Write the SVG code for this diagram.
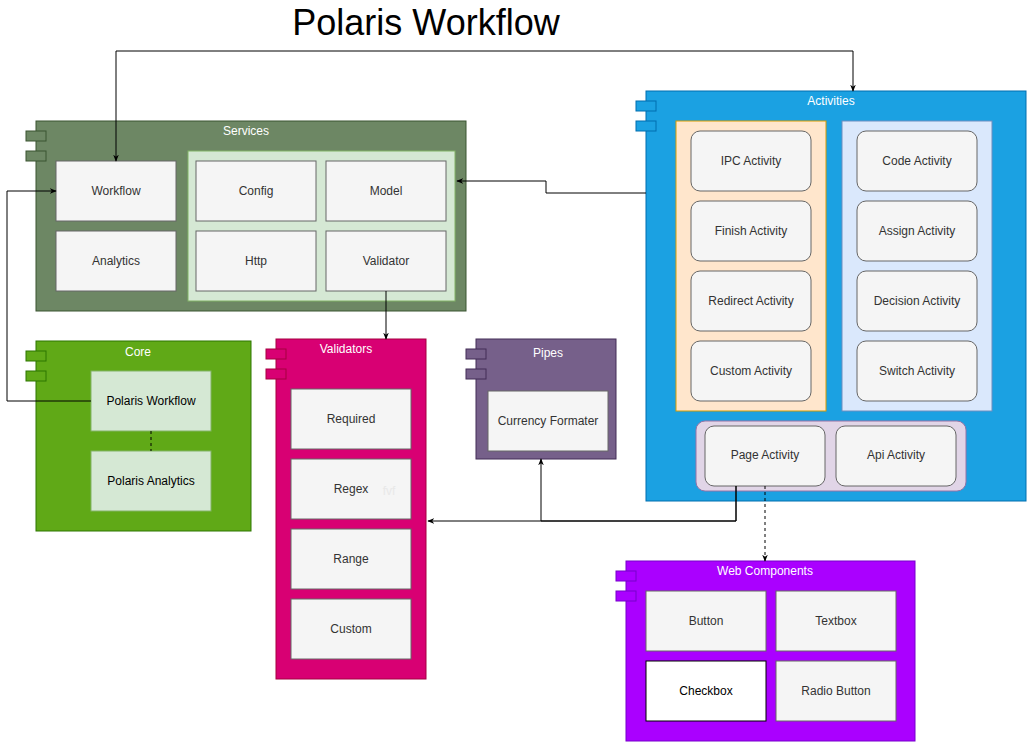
<svg xmlns="http://www.w3.org/2000/svg" width="1027" height="742" viewBox="0 0 1027 742">
<style>
text{font-family:"Liberation Sans",Arial,sans-serif;font-size:12px;text-anchor:middle;dominant-baseline:central}
.title{font-size:36px;fill:#000;dominant-baseline:auto}
.lbl{fill:#ffffff}
.box{fill:#f5f5f5;stroke:#666666;stroke-width:1}
.t{fill:#333333}
.edge{fill:none;stroke:#000;stroke-width:1}
</style>
<defs>
<marker id="arr" viewBox="0 0 10 10" refX="9" refY="5" markerWidth="7" markerHeight="7" orient="auto-start-reverse" markerUnits="userSpaceOnUse">
<path d="M0,1 L10,5 L0,9 L3,5 Z" fill="#000"/>
</marker>
</defs>
<rect width="1027" height="742" fill="#ffffff"/>
<text class="title" x="426" y="35">Polaris Workflow</text>

<g id="services">
<rect x="36" y="121" width="430" height="190" fill="#6d8764" stroke="#3a5431"/>
<rect x="26" y="131" width="20" height="10" fill="#6d8764" stroke="#3a5431"/>
<rect x="26" y="151" width="20" height="10" fill="#6d8764" stroke="#3a5431"/>
<text class="lbl" x="246" y="131">Services</text>
<rect x="188" y="151" width="267" height="150" fill="#d5e8d4" stroke="#82b366"/>
</g>
<g id="workflow"><rect class="box" x="56" y="161" width="120" height="60"/><text class="t" x="116" y="191">Workflow</text></g>
<g id="analytics"><rect class="box" x="56" y="231" width="120" height="60"/><text class="t" x="116" y="261">Analytics</text></g>
<g id="config"><rect class="box" x="196" y="161" width="120" height="60"/><text class="t" x="256" y="191">Config</text></g>
<g id="model"><rect class="box" x="326" y="161" width="120" height="60"/><text class="t" x="386" y="191">Model</text></g>
<g id="http"><rect class="box" x="196" y="231" width="120" height="60"/><text class="t" x="256" y="261">Http</text></g>
<g id="validator"><rect class="box" x="326" y="231" width="120" height="60"/><text class="t" x="386" y="261">Validator</text></g>

<g id="core">
<rect x="36" y="341" width="215" height="190" fill="#60a917" stroke="#2d7600"/>
<rect x="26" y="351" width="20" height="10" fill="#60a917" stroke="#2d7600"/>
<rect x="26" y="371" width="20" height="10" fill="#60a917" stroke="#2d7600"/>
<text class="lbl" x="138" y="352">Core</text>
</g>
<g id="polaris-workflow"><rect x="91" y="371" width="120" height="60" fill="#d5e8d4" stroke="#82b366"/><text x="151" y="401" fill="#000">Polaris Workflow</text></g>
<g id="polaris-analytics"><rect x="91" y="451" width="120" height="60" fill="#d5e8d4" stroke="#82b366"/><text x="151" y="481" fill="#000">Polaris Analytics</text></g>

<g id="validators">
<rect x="276" y="339" width="150" height="340" fill="#d80073" stroke="#a50040"/>
<rect x="266" y="349" width="20" height="10" fill="#d80073" stroke="#a50040"/>
<rect x="266" y="369" width="20" height="10" fill="#d80073" stroke="#a50040"/>
<text class="lbl" x="346" y="349">Validators</text>
</g>
<g id="required"><rect class="box" x="291" y="389" width="120" height="60"/><text class="t" x="351" y="419">Required</text></g>
<g id="regex"><rect class="box" x="291" y="459" width="120" height="60"/><text class="t" x="351" y="489">Regex</text><text x="389" y="491" fill="#e8e8e8">fvf</text></g>
<g id="range"><rect class="box" x="291" y="529" width="120" height="60"/><text class="t" x="351" y="559">Range</text></g>
<g id="custom"><rect class="box" x="291" y="599" width="120" height="60"/><text class="t" x="351" y="629">Custom</text></g>

<g id="pipes">
<rect x="476" y="339" width="140" height="120" fill="#76608a" stroke="#432d57"/>
<rect x="466" y="349" width="20" height="10" fill="#76608a" stroke="#432d57"/>
<rect x="466" y="369" width="20" height="10" fill="#76608a" stroke="#432d57"/>
<text class="lbl" x="548" y="353">Pipes</text>
</g>
<g id="currency-formater"><rect class="box" x="488" y="391" width="120" height="60"/><text class="t" x="548" y="421">Currency Formater</text></g>

<g id="activities">
<rect x="646" y="91" width="380" height="410" fill="#1ba1e2" stroke="#006eaf"/>
<rect x="636" y="101" width="20" height="10" fill="#1ba1e2" stroke="#006eaf"/>
<rect x="636" y="121" width="20" height="10" fill="#1ba1e2" stroke="#006eaf"/>
<text class="lbl" x="831" y="101">Activities</text>
<rect x="676" y="121" width="150" height="290" fill="#ffe6cc" stroke="#d79b00"/>
<rect x="842" y="121" width="150" height="290" fill="#dae8fc" stroke="#6c8ebf"/>
<rect x="696" y="421" width="270" height="70" rx="9" fill="#e1d5e7" stroke="#9673a6"/>
</g>
<g id="ipc-activity"><rect class="box" x="691" y="131" width="120" height="60" rx="9"/><text class="t" x="751" y="161">IPC Activity</text></g>
<g id="finish-activity"><rect class="box" x="691" y="201" width="120" height="60" rx="9"/><text class="t" x="751" y="231">Finish Activity</text></g>
<g id="redirect-activity"><rect class="box" x="691" y="271" width="120" height="60" rx="9"/><text class="t" x="751" y="301">Redirect Activity</text></g>
<g id="custom-activity"><rect class="box" x="691" y="341" width="120" height="60" rx="9"/><text class="t" x="751" y="371">Custom Activity</text></g>
<g id="code-activity"><rect class="box" x="857" y="131" width="120" height="60" rx="9"/><text class="t" x="917" y="161">Code Activity</text></g>
<g id="assign-activity"><rect class="box" x="857" y="201" width="120" height="60" rx="9"/><text class="t" x="917" y="231">Assign Activity</text></g>
<g id="decision-activity"><rect class="box" x="857" y="271" width="120" height="60" rx="9"/><text class="t" x="917" y="301">Decision Activity</text></g>
<g id="switch-activity"><rect class="box" x="857" y="341" width="120" height="60" rx="9"/><text class="t" x="917" y="371">Switch Activity</text></g>
<g id="page-activity"><rect class="box" x="705" y="426" width="120" height="60" rx="9"/><text class="t" x="765" y="455">Page Activity</text></g>
<g id="api-activity"><rect class="box" x="836" y="426" width="120" height="60" rx="9"/><text class="t" x="896" y="455">Api Activity</text></g>

<g id="web-components">
<rect x="626" y="561" width="289" height="180" fill="#aa00ff" stroke="#7700cc"/>
<rect x="616" y="571" width="20" height="10" fill="#aa00ff" stroke="#7700cc"/>
<rect x="616" y="591" width="20" height="10" fill="#aa00ff" stroke="#7700cc"/>
<text class="lbl" x="765" y="571">Web Components</text>
</g>
<g id="button"><rect class="box" x="646" y="591" width="120" height="60"/><text class="t" x="706" y="621">Button</text></g>
<g id="textbox"><rect class="box" x="776" y="591" width="120" height="60"/><text class="t" x="836" y="621">Textbox</text></g>
<g id="checkbox"><rect x="646" y="661" width="120" height="60" fill="#ffffff" stroke="#000"/><text x="706" y="691" fill="#000">Checkbox</text></g>
<g id="radio-button"><rect class="box" x="776" y="661" width="120" height="60"/><text class="t" x="836" y="691">Radio Button</text></g>

<g id="connectors">
<path class="edge" d="M116,161 V51 H853 V91" marker-start="url(#arr)" marker-end="url(#arr)"/>
<path class="edge" d="M646,193 H546 V181 H457" marker-end="url(#arr)"/>
<path class="edge" d="M386,291 V339" marker-end="url(#arr)"/>
<path class="edge" d="M91,401 H7 V191 H56" marker-end="url(#arr)"/>
<path class="edge" d="M736,486 V521 H428" marker-end="url(#arr)"/>
<path class="edge" d="M736,486 V521 H541 V459" marker-end="url(#arr)"/>
<path class="edge" d="M765,486 V561" stroke-dasharray="3,3" marker-end="url(#arr)"/>
<path class="edge" d="M151,431 V451" stroke-dasharray="3,3"/>
</g>
</svg>
